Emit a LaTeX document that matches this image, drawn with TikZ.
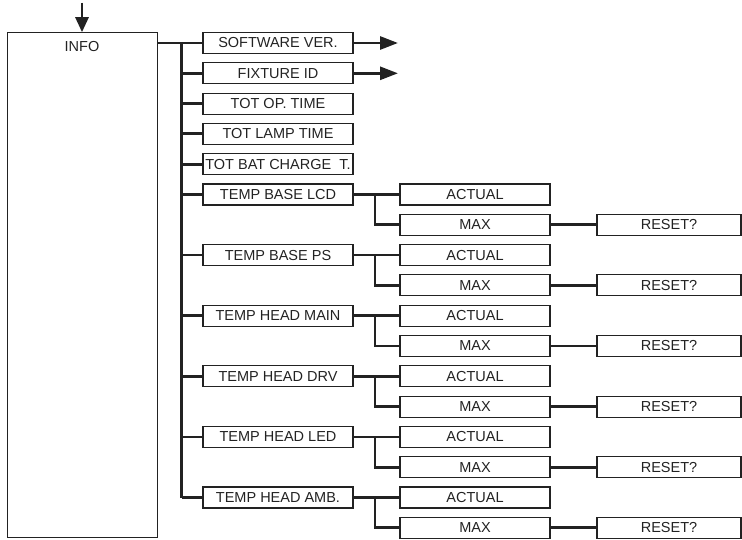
\documentclass[tikz,border=0pt]{standalone}
\usepackage{fontspec}
\setmainfont{Liberation Sans}
\usetikzlibrary{arrows.meta}
\definecolor{ink}{HTML}{222222}
\tikzset{
  box/.style={draw=ink, text=ink, line width=1.1pt, minimum height=21pt, inner sep=0pt, font=\fontsize{14.5}{16}\selectfont},
  lvone/.style={box, minimum width=150pt},
  lvtwo/.style={box, minimum width=150pt},
  rbox/.style={box, minimum width=144pt},
  conn/.style={draw=ink, line width=2.8pt},
  arr/.style={draw=ink, fill=ink, line width=2.8pt, -{Triangle[length=18pt,width=13pt]}},
}
\begin{document}
\begin{tikzpicture}[x=1pt,y=-1pt]
\useasboundingbox (0,0) rectangle (742,540);
% INFO box
\node[draw=ink, line width=1.1pt, minimum width=149.5pt, minimum height=504.5pt, inner sep=0pt, anchor=north west] (info) at (7,32.2) {};
\node[text=ink, font=\fontsize{14.5}{16}\selectfont] (infot) at (82,46.5) {INFO};
\coordinate (top) at (82,3);
\draw[draw=ink, fill=ink, line width=2.8pt, -{Triangle[length=15pt,width=13pt]}] (top) -- (info.north -| top);
% level 1
\node[lvone] (sw) at (278,43) {SOFTWARE VER.};
\node[lvone] (fx) at (278,73.3) {FIXTURE ID};
\node[lvone] (op) at (278,103.6) {TOT OP. TIME};
\node[lvone] (lamp) at (278,133.9) {TOT LAMP TIME};
\node[lvone] (bat) at (278,164.2) {TOT BAT CHARGE\ \ T.};
\node[lvone] (t1) at (278,194.5) {TEMP BASE LCD};
\node[lvone] (t2) at (278,255.1) {TEMP BASE PS};
\node[lvone] (t3) at (278,315.7) {TEMP HEAD MAIN};
\node[lvone] (t4) at (278,376.3) {TEMP HEAD DRV};
\node[lvone] (t5) at (278,436.9) {TEMP HEAD LED};
\node[lvone] (t6) at (278,497.5) {TEMP HEAD AMB.};
% bus
\coordinate (bt) at (181.7,43);
\coordinate (bb) at (181.7,497.5);
\draw[conn] (info.east |- sw.west) -- (sw.west);
\draw[conn] (bt) -- (bb);
\foreach \n in {fx,op,lamp,bat,t1,t2,t3,t4,t5,t6}{
  \draw[conn] (bt |- \n.west) -- (\n.west);
}
% arrows out
\coordinate (swa) at (398,43);
\coordinate (fxa) at (398,73.3);
\draw[arr] (sw.east) -- (swa);
\draw[arr] (fx.east) -- (fxa);
% sub-branches
\foreach \n/\y in {t1/194.5,t2/255.1,t3/315.7,t4/376.3,t5/436.9,t6/497.5}{
  \node[lvtwo] (\n a) at (475,\y) {ACTUAL};
  \node[lvtwo] (\n m) at (475,\y+30.3) {MAX};
  \node[rbox] (\n r) at (669,\y+30.3) {RESET?};
  \coordinate (\n j) at (375,\y);
  \draw[conn] (\n.east) -- (\n a.west);
  \draw[conn] (\n j) |- (\n m.west);
  \draw[conn] (\n m.east) -- (\n r.west);
}
\end{tikzpicture}
\end{document}
